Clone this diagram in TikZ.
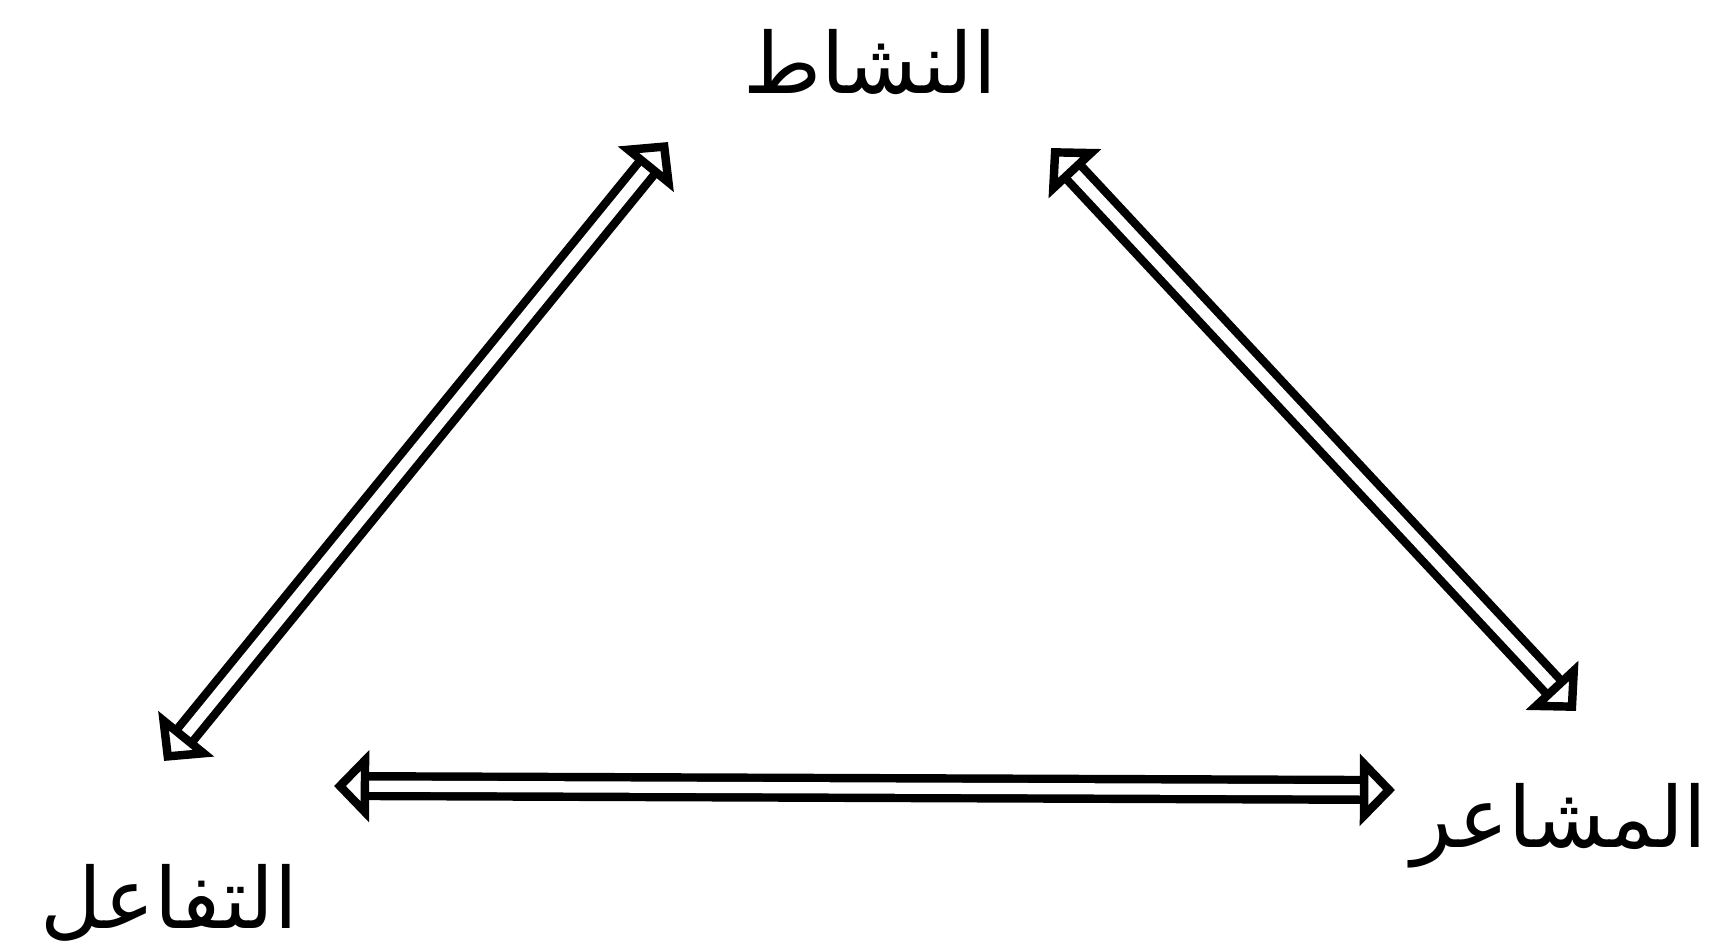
\documentclass[tikz,border=0pt]{standalone}
\usepackage{fontspec}
\newfontfamily\arabicfont[Script=Arabic]{DejaVu Sans}
\TeXXeTstate=1
\usetikzlibrary{arrows.meta}

\begin{document}
\begin{tikzpicture}[x=0.01cm,y=-0.01cm,
    label/.style={font=\arabicfont\fontsize{24}{30}\selectfont,inner sep=0pt},
    dblarrow/.style={double=white,double distance=3.2pt,line width=2.4pt,
      {Triangle[open,length=10pt,width=20pt,line width=2.4pt]}-{Triangle[open,length=10pt,width=20pt,line width=2.4pt]}}]
  \useasboundingbox (0,0) rectangle (1716,952);
  % labels
  \node[label] (nashat) at (870,62) {\beginR النشاط\endR};
  \node[label] (tafaul) at (169,903) {\beginR التفاعل\endR};
  \node[label,anchor=east] (mashaer) at (1708,826) {\beginR المشاعر\endR};
  % arrow ends
  \coordinate (lA) at (164,761);
  \coordinate (lB) at (668,142);
  \coordinate (rA) at (1051,148);
  \coordinate (rB) at (1576,711);
  \coordinate (bA) at (334,786);
  \coordinate (bB) at (1395,790);
  \draw[dblarrow] (lA) -- (lB);
  \draw[dblarrow] (rA) -- (rB);
  \draw[dblarrow] (bA) -- (bB);
\end{tikzpicture}
\end{document}
